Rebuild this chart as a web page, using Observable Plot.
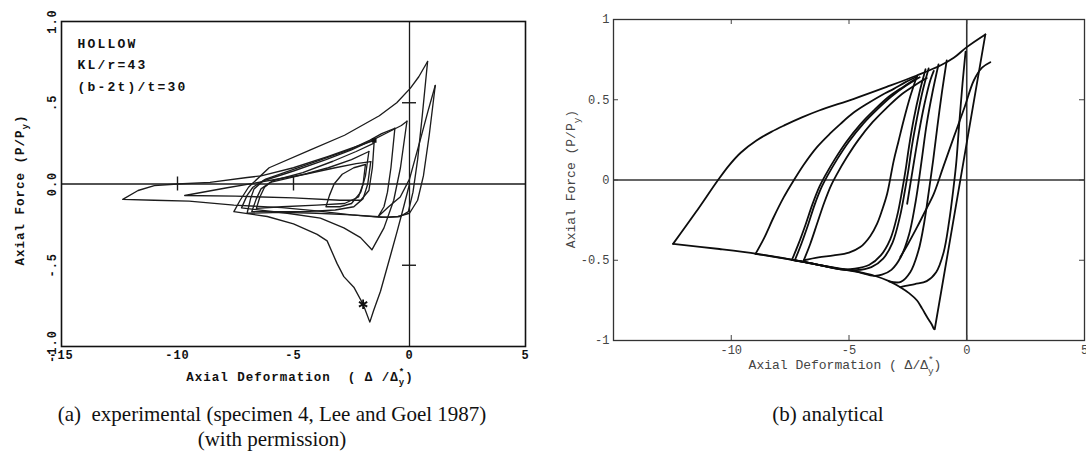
<!DOCTYPE html>
<html>
<head>
<meta charset="utf-8">
<script src="https://cdn.jsdelivr.net/npm/d3@7"></script>
<script src="https://cdn.jsdelivr.net/npm/@observablehq/plot@0.6"></script>
<style>
  body { margin: 0; background: #fff; }
  #fig { position: relative; width: 1086px; height: 453px; overflow: hidden; background: #fff; }
  #fig svg { position: absolute; top: 0; overflow: visible; }
  .cap { position: absolute; font-family: "Liberation Serif", "Times New Roman", serif; font-size: 21px;
         color: #111; text-align: center; white-space: nowrap; line-height: 25px; transform: translateX(-50%); }
</style>
</head>
<body>
<div id="fig"></div>
<script>
// ---------- (a) experimental record: load path, one array per loading excursion ----------
const expLoop1 = [[0,0],[-0.25,-0.14],[-0.53,-0.29],[-0.82,-0.44],[-1.25,-0.66],[-1.55,-0.78],[-1.71,-0.85],
  [-2.0,-0.74],[-2.4,-0.635],[-2.83,-0.57],[-3.12,-0.49],[-3.55,-0.35],[-3.98,-0.31],[-5.0,-0.245],[-6.13,-0.20],[-7.57,-0.17],
  [-7.3,-0.1],[-6.94,-0.02],[-6.05,0.10],[-4.27,0.21],[-2.8,0.30],[-1.3,0.42],[-0.55,0.50],[0.04,0.59],[0.4,0.66],[0.78,0.754]];
const expLoop2 = [[0.78,0.754],[0.55,0.42],[0.35,0.15],[0.15,-0.05],[-0.05,-0.17],[-0.4,-0.2],[-0.9,-0.205],[-1.5,-0.2],
  [-2.5,-0.19],[-4.0,-0.18],[-5.5,-0.175],[-7.0,-0.18],[-6.85,-0.09],[-6.7,-0.03],[-6.3,0.02],[-5.0,0.08],[-3.6,0.15],
  [-2.5,0.21],[-1.6,0.27],[-0.9,0.32],[-0.35,0.36],[-0.11,0.386]];
const expLoop3 = [[-0.11,0.386],[-0.39,0.10],[-0.68,-0.10],[-1.1,-0.27],[-1.62,-0.405],[-2.11,-0.33],[-2.83,-0.27],
  [-3.84,-0.21],[-5.27,-0.18],[-7.24,-0.147],[-7.0,-0.07],[-6.75,-0.02],[-6.2,0.03],[-5.0,0.09],[-3.8,0.15],[-2.6,0.21],
  [-1.7,0.27],[-1.2,0.31],[-0.63,0.343]];
const expLoop4 = [[-0.63,0.343],[-0.8,0.1],[-0.95,-0.05],[-1.1,-0.14],[-1.35,-0.2],[-0.9,-0.14],[-0.4,-0.08],[0.0,0.03],
  [0.5,0.29],[0.8,0.45],[1.11,0.606]];
const expLoop5 = [[1.11,0.606],[0.85,0.3],[0.6,0.05],[0.35,-0.1],[0.0,-0.18],[-0.5,-0.2],[-1.2,-0.205],[-2.5,-0.19],
  [-4.0,-0.165],[-5.5,-0.145],[-7.57,-0.13],[-9.5,-0.105],[-11.0,-0.1],[-12.36,-0.095],[-11.7,-0.04],[-11.0,-0.01],
  [-10.0,0.0],[-8.6,0.01],[-7.0,0.04],[-6.4,0.05],[-5.0,0.1],[-3.5,0.17],[-2.5,0.22],[-1.52,0.268]];
const expLoop6 = [[-1.52,0.268],[-1.6,0.1],[-1.75,-0.04],[-2.1,-0.1],[-3.0,-0.1],[-5.0,-0.085],[-7.5,-0.075],[-9.69,-0.071],
  [-7.86,-0.023],[-5.85,0.026],[-4.5,0.06],[-3.2,0.1],[-2.3,0.125],[-1.67,0.138]];
const expLoop7 = [[-1.67,0.138],[-1.8,0.0],[-2.0,-0.09],[-2.4,-0.14],[-3.2,-0.16],[-4.5,-0.17],[-5.8,-0.17],[-6.8,-0.17],
  [-6.6,-0.09],[-6.4,-0.03],[-6.0,0.01],[-4.8,0.05],[-3.5,0.1],[-2.5,0.15],[-1.75,0.2]];
const expLoop8 = [[-1.75,0.2],[-1.9,0.05],[-2.1,-0.05],[-2.5,-0.12],[-3.0,-0.14],[-3.6,-0.14],[-3.45,-0.07],[-3.25,0.0],
  [-2.9,0.06],[-2.4,0.1],[-1.9,0.12]];
const expLoop9 = [[-1.9,0.12],[-2.0,0.0],[-2.2,-0.08],[-2.8,-0.12],[-4.0,-0.13],[-5.5,-0.14],[-6.6,-0.15],[-6.45,-0.08],
  [-6.25,-0.02],[-5.9,0.02],[-4.6,0.07],[-3.3,0.14],[-2.3,0.2],[-1.55,0.25]];
const expSquare = [[-1.52, 0.268]];
const expStar = [[-2.0, -0.74]];
const expCrossX = [-10, -5];        // short marks on the zero-force line
const expCrossY = [0.5, -0.5];      // short marks on the zero-deformation line
const expNotes = ["HOLLOW", "KL/r=43", "(b-2t)/t=30"];
const expXTicks = [-15, -10, -5, 0, 5];
const expXTickLabels = ["-15", "-10", "-5", "0", "5"];
const expYTicks = [-1, -0.5, 0, 0.5, 1];
const expYTickLabels = ["-1.0", "-.5", "0.0", ".5", "1.0"];

// ---------- (b) analytical model: branches of the force-deformation response ----------
const anEnvUpper = [[-12.47,-0.398],[-11.5,-0.2],[-10.56,0.0],[-10.1,0.09],[-9.6,0.17],[-8.93,0.246],[-8.3,0.30],
  [-7.75,0.34],[-7.0,0.39],[-6.27,0.433],[-4.79,0.506],[-3.4,0.58],[-2.12,0.651],[-1.12,0.713],[-0.55,0.761],
  [0.0,0.828],[0.79,0.907]];
const anEnvLower = [[-1.40,-0.927],[-1.47,-0.905],[-1.55,-0.885],[-1.68,-0.855],[-1.9,-0.80],[-2.11,-0.751],[-2.45,-0.705],
  [-2.82,-0.668],[-3.3,-0.63],[-3.95,-0.595],[-4.6,-0.572],[-5.36,-0.553],[-6.4,-0.525],[-7.49,-0.495],[-8.9,-0.46],
  [-10.5,-0.43],[-12.47,-0.398]];
const anElastic = [[0.79,0.907],[-1.36,-0.93]];
const anReload1 = [[-8.97,-0.46],[-8.6,-0.36],[-8.2,-0.232],[-7.78,-0.11],[-7.35,-0.003],[-6.9,0.1],[-6.36,0.205],[-5.8,0.29],
  [-5.36,0.35],[-4.8,0.42],[-4.23,0.475],[-3.6,0.53],[-3.1,0.568],[-2.6,0.61],[-2.11,0.645]];
const anReload2 = [[-7.42,-0.497],[-7.15,-0.40],[-6.85,-0.28],[-6.55,-0.15],[-6.25,-0.04],[-6.0,0.03],[-5.6,0.13],[-5.1,0.24],
  [-4.5,0.35],[-3.9,0.44],[-3.3,0.52],[-2.7,0.58],[-2.11,0.635]];
const anReload3 = [[-7.30,-0.50],[-7.03,-0.40],[-6.74,-0.28],[-6.45,-0.15],[-6.15,-0.04],[-5.9,0.03],[-5.5,0.13],[-5.0,0.24],
  [-4.4,0.35],[-3.8,0.44],[-3.2,0.52],[-2.6,0.585],[-2.0,0.64]];
const anReload4 = [[-6.92,-0.50],[-6.65,-0.40],[-6.35,-0.27],[-6.05,-0.14],[-5.75,-0.03],[-5.5,0.04],[-5.1,0.14],[-4.6,0.25],
  [-4.0,0.36],[-3.4,0.45],[-2.8,0.53],[-2.2,0.59],[-1.7,0.635]];
const anComp1 = [[-2.11,0.65],[-2.4,0.52],[-2.68,0.371],[-2.9,0.24],[-3.1,0.121],[-3.38,-0.086],[-3.6,-0.19],[-3.81,-0.273],
  [-4.1,-0.35],[-4.52,-0.418],[-5.0,-0.452],[-5.65,-0.47],[-6.3,-0.482],[-6.92,-0.50]];
const anComp2 = [[-1.75,0.69],[-2.0,0.55],[-2.25,0.38],[-2.45,0.21],[-2.6,0.06],[-2.75,-0.07],[-2.95,-0.22],[-3.25,-0.37],
  [-3.65,-0.47],[-4.15,-0.53],[-4.75,-0.553],[-5.36,-0.556],[-6.4,-0.525],[-7.30,-0.50]];
const anComp3 = [[-1.62,0.695],[-1.88,0.55],[-2.12,0.38],[-2.33,0.21],[-2.48,0.06],[-2.63,-0.07],[-2.84,-0.23],[-3.15,-0.39],
  [-3.55,-0.49],[-4.05,-0.543],[-4.7,-0.562],[-5.36,-0.556],[-6.4,-0.525],[-7.42,-0.497]];
const anComp4 = [[-1.2,0.72],[-1.45,0.55],[-1.7,0.35],[-1.88,0.16],[-2.03,0.0],[-2.2,-0.16],[-2.45,-0.34],[-2.8,-0.48],
  [-3.2,-0.56],[-3.6,-0.59],[-3.95,-0.597],[-4.6,-0.574],[-5.36,-0.555],[-6.4,-0.526],[-7.49,-0.496],[-8.97,-0.46]];
const anComp5 = [[-0.85,0.745],[-1.05,0.55],[-1.25,0.33],[-1.42,0.13],[-1.6,-0.06],[-1.8,-0.26],[-2.05,-0.44],[-2.4,-0.575],
  [-2.8,-0.635],[-3.3,-0.632]];
const anComp6 = [[-0.05,0.80],[-0.18,0.6],[-0.32,0.35],[-0.45,0.1],[-0.58,-0.07],[-0.75,-0.26],[-0.98,-0.45],[-1.3,-0.575],
  [-1.7,-0.63],[-2.2,-0.648],[-2.6,-0.66],[-2.82,-0.668]];
const anTension1 = [[-2.82,-0.48],[-2.5,-0.40],[-2.11,-0.294],[-1.75,-0.19],[-1.40,-0.086],[-1.0,0.08],[-0.55,0.267],
  [-0.1,0.45],[0.3,0.62],[0.65,0.70],[1.0,0.734]];
const anTension2 = [[-2.53,-0.148],[-2.3,0.06],[-2.05,0.28],[-1.8,0.47],[-1.55,0.62],[-1.40,0.68]];
const anXTicks = [-10, -5, 0, 5];
const anXTickLabels = ["-10", "-5", "0", "5"];
const anYTicks = [-1, -0.5, 0, 0.5, 1];
const anYTickLabels = ["-1", "-0.5", "0", "0.5", "1"];

// ---------- tables for Plot ----------
const rows = (groups) => groups.flatMap(([name, pts]) => pts.map(([x, y]) => ({branch: name, x, y})));
const expRows = rows([["L1", expLoop1], ["L2", expLoop2], ["L3", expLoop3], ["L4", expLoop4],
  ["L5", expLoop5], ["L6", expLoop6], ["L7", expLoop7], ["L8", expLoop8], ["L9", expLoop9]]);
const anRows = rows([["envU", anEnvUpper], ["envL", anEnvLower], ["el", anElastic], ["r1", anReload1], ["r2", anReload2],
  ["r3", anReload3], ["r4", anReload4], ["c1", anComp1], ["c2", anComp2], ["c3", anComp3], ["c4", anComp4],
  ["c5", anComp5], ["c6", anComp6], ["t1", anTension1], ["t2", anTension2]]);
const pt = (pts) => pts.map(([x, y]) => ({x, y}));
const lookup = (ticks, labels) => (d) => labels[ticks.indexOf(d)];

const typewriter = "'Liberation Mono', 'DejaVu Sans Mono', monospace";

// ---------- panel (a) ----------
const left = Plot.plot({
  width: 540, height: 385,
  marginLeft: 61, marginRight: 15, marginTop: 21, marginBottom: 39,
  x: {domain: [-15, 5]},
  y: {domain: [-1, 1]},
  style: {fontFamily: typewriter, fontWeight: "bold", fontSize: "12px", letterSpacing: "1px", background: "transparent", color: "#111"},
  marks: [
    Plot.ruleY([0], {stroke: "#1a1a1a", strokeWidth: 1.3}),
    Plot.ruleX([0], {stroke: "#1a1a1a", strokeWidth: 1.3}),
    Plot.ruleX(expCrossX, {y1: 0, y2: 0, insetTop: -7, insetBottom: -7, stroke: "#1a1a1a", strokeWidth: 1.4}),
    Plot.ruleY(expCrossY, {x1: 0, x2: 0, insetLeft: -7, insetRight: -7, stroke: "#1a1a1a", strokeWidth: 1.4}),
    Plot.line(expRows, {x: "x", y: "y", z: "branch", stroke: "#1c1c1c", strokeWidth: 1.35, strokeLinejoin: "round"}),
    Plot.dot(pt(expSquare), {x: "x", y: "y", symbol: "square", r: 2.6, fill: "#111", stroke: "none"}),
    Plot.dot(pt(expStar), {x: "x", y: "y", symbol: "asterisk", r: 4.5, stroke: "#111", strokeWidth: 1.8}),
    Plot.text([expNotes.join("\n")], {frameAnchor: "top-left", dx: 16, dy: 11, lineHeight: 1.65,
      textAnchor: "start", lineAnchor: "top", fontSize: 13, fontWeight: "bold", fill: "#111"}),
    Plot.axisX(expXTicks, {tickSize: 0, tickPadding: 4, tickFormat: lookup(expXTicks, expXTickLabels), label: null,
      fontSize: 12, fontWeight: "bold", fill: "#111"}),
    Plot.axisY(expYTicks, {tickSize: 0, tickPadding: 6, tickRotate: -90, tickFormat: lookup(expYTicks, expYTickLabels),
      label: null, fontSize: 12, fontWeight: "bold", fill: "#111"}),
    Plot.frame({stroke: "#111", strokeWidth: 1.6})
  ]
});
left.style.left = "0px";
// wider typewriter spacing for the specimen notes
d3.select(left).selectAll("text").filter(function () { return /HOLLOW/.test(this.textContent); })
  .attr("letter-spacing", "2.2px");

// ---------- panel (b) ----------
const right = Plot.plot({
  width: 546, height: 385,
  marginLeft: 73, marginRight: 2, marginTop: 19, marginBottom: 45,
  x: {domain: [-15, 5]},
  y: {domain: [-1, 1]},
  style: {fontFamily: typewriter, fontSize: "12px", background: "transparent", color: "#444"},
  marks: [
    Plot.ruleY([0], {stroke: "#333", strokeWidth: 1.6}),
    Plot.ruleX([0], {stroke: "#333", strokeWidth: 1.6}),
    Plot.line(anRows, {x: "x", y: "y", z: "branch", stroke: "#0d0d0d", strokeWidth: 1.8, strokeLinejoin: "round", curve: "catmull-rom"}),
    // inward ticks on all four sides of the box
    Plot.ruleX(anXTicks, {y1: -1, y2: -1, insetTop: -5, stroke: "#444", strokeWidth: 1}),
    Plot.ruleX(anXTicks, {y1: 1, y2: 1, insetBottom: -5, stroke: "#444", strokeWidth: 1}),
    Plot.ruleY(anYTicks, {x1: -15, x2: -15, insetRight: -5, stroke: "#444", strokeWidth: 1}),
    Plot.ruleY(anYTicks, {x1: 5, x2: 5, insetLeft: -5, stroke: "#444", strokeWidth: 1}),
    Plot.axisX(anXTicks, {tickSize: 0, tickPadding: 5, tickFormat: lookup(anXTicks, anXTickLabels), label: null,
      fontSize: 12, fill: "#444"}),
    Plot.axisY(anYTicks, {tickSize: 0, tickPadding: 4, tickFormat: lookup(anYTicks, anYTickLabels), label: null,
      fontSize: 12, fill: "#444"}),
    Plot.frame({stroke: "#333", strokeWidth: 1.3})
  ]
});
right.style.left = "540px";

// axis titles with sub- and superscripts
function addLabel(svg, o) {
  const sp = o.spacing || 0;
  const t = d3.select(svg).append("text")
    .attr("transform", `translate(${o.x},${o.y}) rotate(${o.rotate || 0})`)
    .attr("text-anchor", "middle")
    .attr("font-family", typewriter).attr("font-size", o.size)
    .attr("font-weight", o.weight || "normal").attr("fill", o.fill)
    .attr("letter-spacing", sp);
  let shift = 0;
  const s = o.size * 0.72;
  for (const p of o.parts) {
    if (typeof p === "string") {
      t.append("tspan").attr("dy", -shift).text(p);
      shift = 0;
    } else if (p.sup) {
      t.append("tspan").attr("dy", -shift - o.size * 0.45).attr("font-size", s).text(p.sup);
      t.append("tspan").attr("dx", -(s * 0.6 + sp)).attr("dy", o.size * 0.8).attr("font-size", s).text(p.sub);
      shift = o.size * 0.35;
    } else {
      t.append("tspan").attr("dy", -shift + o.size * 0.35).attr("font-size", s).text(p.sub);
      shift = o.size * 0.35;
    }
  }
}
addLabel(left, {x: 300, y: 381, size: 12.5, weight: "bold", fill: "#111", spacing: 1,
  parts: ["Axial Deformation  ( Δ /Δ", {sup: "*", sub: "y"}, ")"]});
addLabel(left, {x: 24, y: 190, rotate: -90, size: 12.5, weight: "bold", fill: "#111", spacing: 1,
  parts: ["Axial Force (P/P", {sub: "y"}, ")"]});
addLabel(right, {x: 305, y: 369, size: 13, fill: "#444",
  parts: ["Axial Deformation ( Δ/Δ", {sup: "*", sub: "y"}, ")"]});
addLabel(right, {x: 35, y: 179, rotate: -90, size: 13, fill: "#444",
  parts: ["Axial Force (P/P", {sub: "y"}, ")"]});

const fig = document.getElementById("fig");
fig.append(left, right);

// captions under each panel
const capA = document.createElement("div");
capA.className = "cap";
capA.style.left = "272px"; capA.style.top = "402px";
capA.innerHTML = "(a)&nbsp; experimental (specimen 4, Lee and Goel 1987)<br>(with permission)";
const capB = document.createElement("div");
capB.className = "cap";
capB.style.left = "828px"; capB.style.top = "402px";
capB.textContent = "(b) analytical";
fig.append(capA, capB);
</script>
</body>
</html>
